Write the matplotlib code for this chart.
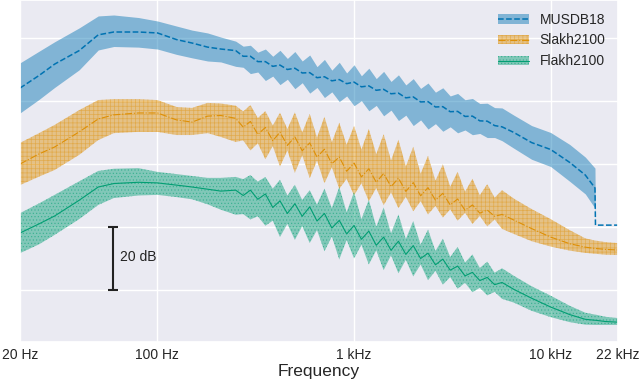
import matplotlib
matplotlib.use('Agg')
import matplotlib.pyplot as plt
import seaborn as sns
from matplotlib.patches import Patch
from matplotlib.lines import Line2D
from matplotlib.ticker import NullLocator

# frequency grid (Hz) shared by the three datasets
freq_hz = [20, 25, 30, 40, 50, 60, 80, 100, 125, 150, 180, 210,
           250, 273, 297, 324, 354, 386, 420, 458, 500, 545, 595, 648, 707, 771, 841, 917,
           1000, 1090, 1189, 1297, 1414, 1542, 1682, 1834, 2000, 2181, 2378, 2594, 2828,
           3084, 3364, 3668, 4000, 4362, 4757, 5187, 5657,
           6500, 8000, 10000, 12500, 15000, 16800, 16900, 19000, 22000]

# MUSDB18 (dB): mean, lower and upper edge of the band
musdb_mean = [-15.9, -11.9, -8.3, -4.0, 1.0, 1.9, 1.9, 1.6, -0.5, -1.6, -2.9, -3.5,
              -4.0, -5.8, -5.8, -7.5, -7.5, -9.0, -8.6, -10.0, -9.6, -11.1, -11.0, -12.6, -12.3, -13.6, -13.2, -14.5,
              -14.0, -15.5, -15.2, -16.6, -16.3, -17.7, -17.5, -19.0, -18.7, -20.3, -20.2, -21.9, -21.8,
              -23.4, -23.3, -24.9, -24.8, -26.3, -26.4, -27.8, -28.2,
              -30.0, -33.2, -35.4, -39.5, -43.5, -47.6, -59.4, -59.4, -59.4]
musdb_lo = [-23.8, -19.5, -15.7, -10.1, -3.8, -2.7, -2.9, -3.5, -5.2, -6.3, -7.3, -7.6,
            -9.0, -9.3, -11.3, -10.8, -13.5, -12.1, -14.8, -13.1, -16.1, -14.2, -17.5, -15.7, -18.9, -17.1, -20.2, -18.4,
            -21.5, -19.9, -23.1, -21.4, -24.7, -22.9, -26.2, -24.5, -27.8, -26.0, -28.9, -27.2, -29.6,
            -28.2, -30.1, -29.2, -30.7, -30.3, -31.6, -31.6, -32.6,
            -35.0, -38.5, -40.8, -45.5, -49.5, -54.0, -59.4, -59.4, -59.4]
musdb_hi = [-7.9, -4.2, -1.2, 3.2, 7.0, 7.3, 6.5, 5.4, 3.8, 2.5, 1.6, 0.3,
            -1.0, -2.6, -2.3, -4.5, -3.5, -5.8, -3.9, -6.5, -4.3, -7.3, -5.4, -9.1, -6.8, -10.2, -7.7, -11.1,
            -8.5, -12.0, -9.6, -12.9, -10.6, -13.8, -11.7, -14.9, -12.9, -16.0, -14.3, -17.2, -15.8,
            -18.4, -17.6, -19.6, -19.2, -20.8, -20.7, -22.1, -22.2,
            -24.5, -27.8, -30.0, -33.8, -37.8, -41.3, -59.4, -59.4, -59.4]

# Slakh2100
slakh_mean = [-40.0, -36.8, -34.6, -29.8, -25.7, -24.4, -23.8, -23.8, -26.0, -26.7, -24.8, -24.6,
              -25.5, -28.3, -26.5, -30.6, -28.4, -32.6, -29.9, -34.1, -31.4, -35.8, -33.3, -37.8, -35.3, -39.9, -37.8, -42.3,
              -39.7, -44.1, -41.5, -45.8, -43.0, -47.2, -44.5, -48.7, -45.9, -50.1, -47.5, -51.5, -49.3,
              -53.0, -51.1, -54.7, -53.0, -55.6, -54.6, -56.6, -56.0,
              -57.8, -60.5, -63.2, -65.3, -66.4, -66.8, -66.8, -67.1, -67.3]
slakh_lo = [-46.7, -44.0, -41.9, -37.1, -32.4, -30.2, -29.8, -29.8, -30.8, -30.8, -30.2, -31.4,
            -33.0, -32.5, -35.7, -33.4, -38.5, -34.3, -40.8, -35.7, -42.8, -37.2, -44.5, -38.9, -46.1, -41.0, -47.9, -44.7,
            -49.9, -46.1, -51.8, -47.6, -53.1, -49.0, -54.0, -50.4, -55.0, -51.8, -56.0, -53.3, -57.0,
            -54.4, -58.0, -55.5, -59.0, -56.5, -59.8, -57.6, -60.6,
            -62.2, -64.5, -66.2, -67.5, -68.2, -68.5, -68.5, -68.8, -68.9]
slakh_hi = [-33.3, -30.2, -27.6, -22.9, -19.7, -19.4, -19.4, -19.7, -21.9, -22.2, -20.6, -20.8,
            -21.5, -23.3, -21.3, -25.4, -23.2, -27.8, -23.7, -28.9, -23.6, -30.0, -24.1, -31.6, -25.0, -33.1, -26.9, -33.9,
            -27.9, -35.4, -28.9, -36.9, -30.5, -38.9, -32.3, -40.8, -34.5, -43.1, -37.4, -45.3, -40.1,
            -47.2, -42.5, -48.8, -44.7, -49.9, -46.4, -50.7, -48.3,
            -51.0, -54.3, -57.5, -61.0, -63.6, -64.3, -64.3, -64.8, -65.1]

# Flakh2100
flakh_mean = [-61.9, -59.0, -56.5, -51.5, -47.3, -46.2, -45.8, -46.0, -46.7, -47.3, -48.0, -48.6,
              -48.3, -50.0, -48.3, -51.2, -49.5, -53.8, -51.7, -55.7, -52.6, -56.6, -53.6, -58.1, -55.7, -60.3, -57.9, -62.2,
              -59.5, -63.9, -61.3, -65.8, -63.2, -67.4, -64.5, -68.7, -65.9, -70.0, -68.3, -72.0, -70.2,
              -73.7, -72.4, -75.5, -74.4, -77.0, -76.0, -78.3, -77.6,
              -79.8, -82.6, -85.4, -87.8, -89.3, -89.6, -89.6, -90.0, -90.2]
flakh_lo = [-68.3, -65.5, -62.5, -57.5, -53.0, -50.8, -50.0, -49.8, -50.5, -51.2, -52.8, -54.5,
            -56.1, -55.9, -57.6, -56.6, -59.6, -58.0, -63.2, -59.0, -64.1, -59.7, -65.1, -61.0, -67.7, -63.0, -70.3, -64.1,
            -70.0, -65.6, -71.9, -67.4, -73.7, -69.0, -74.7, -70.4, -75.7, -71.9, -76.9, -73.9, -78.3,
            -75.9, -79.6, -77.7, -80.7, -79.3, -81.7, -80.6, -82.8,
            -84.0, -86.6, -88.6, -90.2, -91.0, -91.1, -91.1, -91.1, -91.1]
flakh_hi = [-55.6, -52.5, -49.8, -45.5, -42.2, -41.5, -41.3, -42.5, -43.2, -43.8, -44.4, -44.4,
            -44.1, -44.8, -43.5, -45.6, -44.1, -47.8, -45.0, -50.0, -46.6, -51.4, -48.3, -52.9, -47.8, -54.0, -47.3, -55.3,
            -48.9, -57.5, -51.4, -59.9, -53.8, -62.0, -56.0, -63.8, -58.1, -65.6, -60.8, -67.6, -63.7,
            -69.5, -66.3, -71.3, -68.7, -73.0, -71.0, -74.5, -73.1,
            -75.5, -78.8, -81.8, -85.0, -87.2, -87.8, -87.8, -88.5, -88.9]

labels = ['MUSDB18', 'Slakh2100', 'Flakh2100']
tick_hz = [20, 100, 1000, 10000, 22000]
tick_labels = ['20 Hz', '100 Hz', '1 kHz', '10 kHz', '22 kHz']

sns.set_theme(style='darkgrid')
plt.rcParams['font.family'] = ['Liberation Sans', 'DejaVu Sans']
plt.rcParams['hatch.linewidth'] = 0.5

pal = sns.color_palette('colorblind')
colors = [pal[0], pal[1], pal[2]]
hatches = [None, '++++', '.....']
styles = ['--', '-.', '-']
widths = [1.1, 0.8, 0.8]
series = [(musdb_mean, musdb_lo, musdb_hi),
          (slakh_mean, slakh_lo, slakh_hi),
          (flakh_mean, flakh_lo, flakh_hi)]

fig = plt.figure(figsize=(6.4, 3.79), dpi=100)
ax = fig.add_axes([20 / 640, 37 / 379, 598 / 640, 342 / 379])

handles = []
for (mean, lo, hi), c, h, ls, lw in zip(series, colors, hatches, styles, widths):
    ax.fill_between(freq_hz, lo, hi, facecolor=c, edgecolor=c, hatch=h,
                    linewidth=0, alpha=0.45)
    ax.plot(freq_hz, mean, color=c, ls=ls, lw=lw)
    handles.append((Patch(facecolor=c, edgecolor=c, hatch=h, linewidth=0, alpha=0.45),
                    Line2D([], [], color=c, ls=ls, lw=lw)))

# 20 dB scale bar
ax.errorbar([59.5], [-70], yerr=[10], fmt='none', ecolor='#222222',
            elinewidth=1.5, capsize=3.5, capthick=1.5)
ax.text(64.5, -69.5, '20 dB', va='center', ha='left', fontsize=10, color='#222222')

ax.set_xscale('log')
ax.set_xlim(20, 22000)
ax.set_ylim(-96.5, 12.06)
ax.set_xticks(tick_hz)
ax.set_xticklabels(tick_labels)
ax.xaxis.set_minor_locator(NullLocator())
ax.set_yticks([-80, -60, -40, -20, 0])
ax.set_yticklabels([])
ax.tick_params(axis='both', length=0, labelsize=10, pad=4)
ax.set_xlabel('Frequency', fontsize=12.5, labelpad=2)

ax.legend(handles, labels, loc='upper right', frameon=False, fontsize=10,
          handlelength=2.2)

fig.savefig('out.png', dpi=100)
